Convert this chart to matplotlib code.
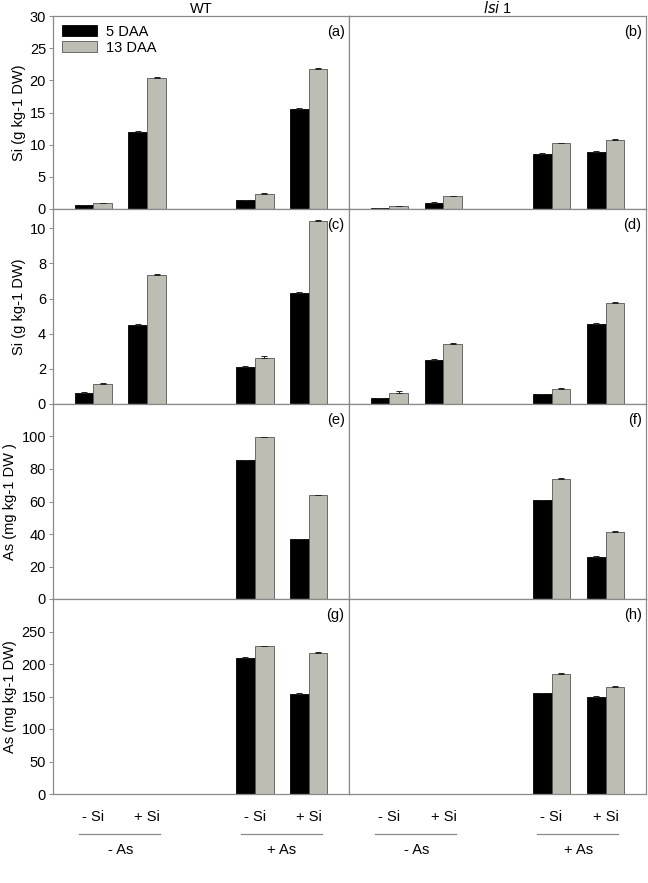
import numpy as np
import matplotlib
matplotlib.use("Agg")
import matplotlib.pyplot as plt
import matplotlib.transforms as mtrans

plt.rcParams['font.family'] = ['Liberation Sans', 'DejaVu Sans']
plt.rcParams['font.size'] = 10.5

# data
groups = ["- Si", "+ Si", "- Si", "+ Si"]
as_groups = ["- As", "+ As"]
series = ["5 DAA", "13 DAA"]

# panel (a) WT Si, (b) lsi1 Si
a_5 = [0.56, 12.0, 1.4, 15.6]
a_13 = [0.93, 20.35, 2.37, 21.75]
a_e5 = [0.05, 0.12, 0.05, 0.1]
a_e13 = [0.05, 0.12, 0.08, 0.1]
b_5 = [0.15, 0.98, 8.6, 8.88]
b_13 = [0.46, 1.95, 10.2, 10.8]
b_e5 = [0.03, 0.08, 0.08, 0.1]
b_e13 = [0.05, 0.1, 0.08, 0.1]
# panel (c) WT Si, (d) lsi1 Si
c_5 = [0.6, 4.48, 2.1, 6.32]
c_13 = [1.12, 7.32, 2.6, 10.42]
c_e5 = [0.07, 0.07, 0.06, 0.06]
c_e13 = [0.06, 0.1, 0.12, 0.06]
d_5 = [0.32, 2.49, 0.55, 4.55]
d_13 = [0.63, 3.4, 0.85, 5.75]
d_e5 = [0.03, 0.06, 0.04, 0.06]
d_e13 = [0.09, 0.06, 0.05, 0.06]
# panel (e) WT As, (f) lsi1 As
e_5 = [0, 0, 85.4, 36.8]
e_13 = [0, 0, 99.4, 63.9]
e_e5 = [0, 0, 0.4, 0.4]
e_e13 = [0, 0, 0.5, 0.3]
f_5 = [0, 0, 60.8, 25.9]
f_13 = [0, 0, 73.9, 41.5]
f_e5 = [0, 0, 0.3, 0.5]
f_e13 = [0, 0, 0.6, 0.3]
# panel (g) WT As, (h) lsi1 As
g_5 = [0, 0, 210, 154.6]
g_13 = [0, 0, 227, 216.9]
g_e5 = [0, 0, 1.5, 1.5]
g_e13 = [0, 0, 1.0, 1.2]
h_5 = [0, 0, 155, 149.4]
h_13 = [0, 0, 185, 165]
h_e5 = [0, 0, 1.0, 1.0]
h_e13 = [0, 0, 1.0, 1.0]

panels = [
    ("(a)", a_5, a_13, a_e5, a_e13, 30, [0, 5, 10, 15, 20, 25, 30], "Si (g kg-1 DW)"),
    ("(b)", b_5, b_13, b_e5, b_e13, 30, None, None),
    ("(c)", c_5, c_13, c_e5, c_e13, 11.1, [0, 2, 4, 6, 8, 10], "Si (g kg-1 DW)"),
    ("(d)", d_5, d_13, d_e5, d_e13, 11.1, None, None),
    ("(e)", e_5, e_13, e_e5, e_e13, 120, [0, 20, 40, 60, 80, 100], "As (mg kg-1 DW )"),
    ("(f)", f_5, f_13, f_e5, f_e13, 120, None, None),
    ("(g)", g_5, g_13, g_e5, g_e13, 300, [0, 50, 100, 150, 200, 250], "As (mg kg-1 DW)"),
    ("(h)", h_5, h_13, h_e5, h_e13, 300, None, None),
]

W, H = 648, 883
fig = plt.figure(figsize=(W / 100, H / 100), dpi=100)

xpos = np.array([0, 1, 3, 4])
bw = 0.35
gray = "#bdbdb4"
spine = "#8a8a8a"
fs = 10.5

rows = [(16, 209), (209, 404), (404, 599), (599, 794)]
cols = [(53, 349), (349, 646)]

axes = []
for i, (lab, v5, v13, e5, e13, ytop, yt, ylab) in enumerate(panels):
    r, c = divmod(i, 2)
    t, b = rows[r]
    l, rr = cols[c]
    ax = fig.add_axes([l / W, 1 - b / H, (rr - l) / W, (b - t) / H])
    axes.append(ax)
    ax.bar(xpos - bw / 2, v5, bw, color="black", edgecolor="black", linewidth=0.6,
           yerr=[np.zeros(4), e5], error_kw=dict(ecolor="#222222", elinewidth=0.7, capsize=2.2, capthick=0.7),
           label=series[0])
    ax.bar(xpos + bw / 2, v13, bw, color=gray, edgecolor="#555555", linewidth=0.6,
           yerr=[np.zeros(4), e13], error_kw=dict(ecolor="#222222", elinewidth=0.7, capsize=2.2, capthick=0.7),
           label=series[1])
    ax.set_xlim(-0.75, 4.75)
    ax.set_ylim(0, ytop)
    ax.set_xticks([])
    for s in ax.spines.values():
        s.set_color(spine)
        s.set_linewidth(0.9)
    if yt is not None:
        ax.set_yticks(yt)
        ax.tick_params(axis="y", length=3, width=0.7, color=spine, labelsize=fs, pad=2)
        ax.set_ylabel(ylab, fontsize=fs, labelpad=3)
    else:
        ax.set_yticks([])
    ax.text(0.985, 0.955, lab, transform=ax.transAxes, ha="right", va="top", fontsize=fs)

axes[0].legend(loc="upper left", bbox_to_anchor=(0.0, 1.0), frameon=False, fontsize=fs,
               handlelength=2.4, handleheight=0.8, handletextpad=0.6,
               borderaxespad=0.2, labelspacing=0.15)
axes[0].set_title("WT", fontsize=fs, pad=2)
axes[1].set_title(r"$\mathit{lsi}$ 1", fontsize=fs, pad=2)

# x category labels under bottom panels
for ax in axes[6:]:
    tr = mtrans.blended_transform_factory(ax.transData, ax.transAxes)
    ph = 195.0
    for x, g in zip(xpos, groups):
        ax.text(x, -23 / ph, g, transform=tr, ha="center", va="center", fontsize=fs)
    for k, name in enumerate(as_groups):
        x0, x1 = xpos[2 * k], xpos[2 * k + 1]
        ax.plot([x0 - 0.26, x1 + 0.24], [-40 / ph, -40 / ph], transform=tr, color=spine,
                linewidth=0.9, clip_on=False)
        ax.text((x0 + x1) / 2, -56 / ph, name, transform=tr, ha="center", va="center", fontsize=fs)

fig.savefig("out.png", dpi=100)
